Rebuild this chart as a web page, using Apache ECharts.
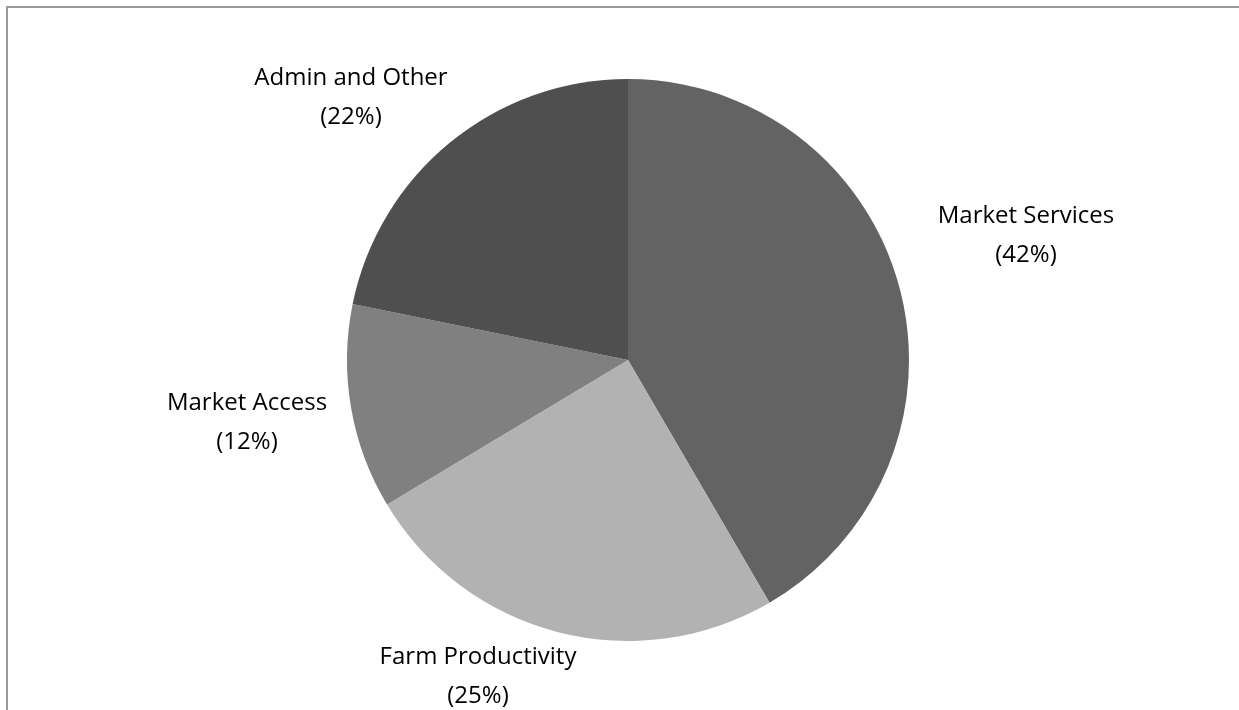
<!DOCTYPE html>
<html>
<head>
<meta charset="utf-8">
<script src="https://cdn.jsdelivr.net/npm/echarts@6/dist/echarts.min.js"></script>
<style>
html,body{margin:0;padding:0;background:#fff;}
#chart{width:1239px;height:710px;}
</style>
</head>
<body>
<div id="chart"></div>
<script>
const categories = ['Market Services', 'Farm Productivity', 'Market Access', 'Admin and Other'];
const values = [41.6, 24.8, 11.8, 21.8];
const percentLabels = ['42%', '25%', '12%', '22%'];
const colors = ['#636363', '#b2b2b2', '#808080', '#4f4f4f'];

// label centre positions (layout only)
const labelPos = [[1026, 236], [478, 677], [247, 423], [351, 98]];

const chart = echarts.init(document.getElementById('chart'));
chart.setOption({
  animation: false,
  backgroundColor: '#fff',
  graphic: [{
    type: 'rect',
    shape: {x: 7, y: 7, width: 1400, height: 900},
    style: {fill: 'none', stroke: '#9a9a9a', lineWidth: 2},
    silent: true
  }],
  series: [{
    type: 'pie',
    center: [628, 360],
    radius: 281,
    startAngle: 90,
    clockwise: true,
    data: categories.map((c, i) => ({
      name: c,
      value: values[i],
      itemStyle: {color: colors[i]}
    })),
    itemStyle: {borderWidth: 0},
    label: {
      show: true,
      position: 'outside',
      formatter: p => p.name + '\n(' + percentLabels[p.dataIndex] + ')',
      fontFamily: 'Open Sans',
      fontSize: 24,
      lineHeight: 39,
      color: '#000',
      align: 'center'
    },
    labelLine: {show: false},
    labelLayout: function (params) {
      const p = labelPos[params.dataIndex];
      return {x: p[0], y: p[1], align: 'center', verticalAlign: 'middle'};
    }
  }]
});
</script>
</body>
</html>
